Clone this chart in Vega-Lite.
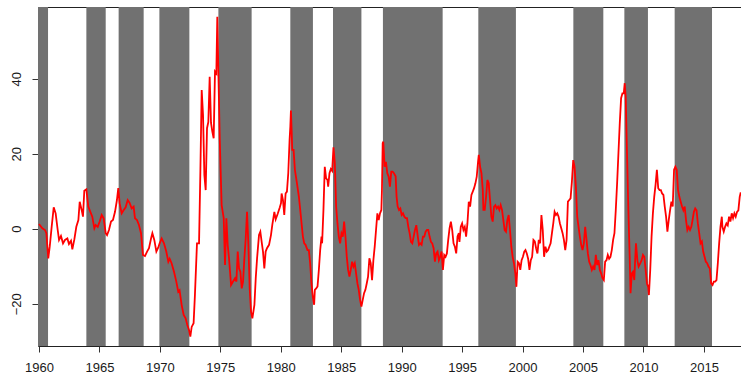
{
  "$schema": "https://vega.github.io/schema/vega-lite/v6.json",
  "width": 704,
  "height": 339,
  "autosize": {"type": "none"},
  "padding": {"left": 38, "top": 7, "right": 0, "bottom": 32},
  "background": "white",
  "config": {
    "view": {"stroke": "#222222", "strokeWidth": 1},
    "axis": {"grid": false, "labelFont": "Liberation Sans", "labelFontSize": 13, "labelColor": "#1a1a1a", "tickColor": "#333333", "tickSize": 6, "domain": false}
  },
  "datasets": {
    "bands": [
      {"start": 1959.9, "end": 1960.75},
      {"start": 1963.92, "end": 1965.52},
      {"start": 1966.59, "end": 1968.66},
      {"start": 1969.96, "end": 1972.44},
      {"start": 1974.84, "end": 1977.59},
      {"start": 1980.79, "end": 1982.66},
      {"start": 1984.32, "end": 1986.67},
      {"start": 1988.45, "end": 1993.39},
      {"start": 1996.34, "end": 1999.45},
      {"start": 2004.2, "end": 2006.68},
      {"start": 2008.42, "end": 2010.37},
      {"start": 2012.58, "end": 2015.67}
    ],
    "series": [
      {"t": 1960.0, "v": 1.25}, {"t": 1960.28, "v": 0.1}, {"t": 1960.5, "v": -0.35}, {"t": 1960.61, "v": -1.2},
      {"t": 1960.77, "v": -7.9}, {"t": 1960.89, "v": -4.8}, {"t": 1961.05, "v": 0.5}, {"t": 1961.22, "v": 5.7},
      {"t": 1961.38, "v": 4.1}, {"t": 1961.55, "v": -0.35}, {"t": 1961.66, "v": -3.0}, {"t": 1961.82, "v": -1.95},
      {"t": 1961.99, "v": -3.9}, {"t": 1962.15, "v": -3.0}, {"t": 1962.35, "v": -2.6}, {"t": 1962.48, "v": -4.1},
      {"t": 1962.65, "v": -3.2}, {"t": 1962.76, "v": -5.5}, {"t": 1962.93, "v": -2.8}, {"t": 1963.09, "v": 0.5},
      {"t": 1963.26, "v": 2.3}, {"t": 1963.37, "v": 7.2}, {"t": 1963.53, "v": 5.0}, {"t": 1963.64, "v": 3.2},
      {"t": 1963.75, "v": 10.1}, {"t": 1963.92, "v": 10.5}, {"t": 1964.08, "v": 5.9}, {"t": 1964.25, "v": 4.5},
      {"t": 1964.41, "v": 3.2}, {"t": 1964.58, "v": 0.1}, {"t": 1964.69, "v": 1.0}, {"t": 1964.86, "v": 0.5},
      {"t": 1965.02, "v": 1.9}, {"t": 1965.19, "v": 3.65}, {"t": 1965.35, "v": 2.8}, {"t": 1965.52, "v": -1.2},
      {"t": 1965.63, "v": -1.7}, {"t": 1965.79, "v": -0.35}, {"t": 1965.96, "v": 1.9}, {"t": 1966.12, "v": 2.3},
      {"t": 1966.29, "v": 4.5}, {"t": 1966.45, "v": 7.65}, {"t": 1966.56, "v": 10.8}, {"t": 1966.67, "v": 6.8},
      {"t": 1966.84, "v": 4.1}, {"t": 1967.01, "v": 5.0}, {"t": 1967.17, "v": 5.7}, {"t": 1967.34, "v": 7.65},
      {"t": 1967.5, "v": 6.9}, {"t": 1967.67, "v": 5.4}, {"t": 1967.83, "v": 5.9}, {"t": 1967.94, "v": 2.8},
      {"t": 1968.11, "v": 2.3}, {"t": 1968.27, "v": 1.0}, {"t": 1968.44, "v": -1.2}, {"t": 1968.6, "v": -7.0},
      {"t": 1968.77, "v": -7.3}, {"t": 1968.94, "v": -6.1}, {"t": 1969.1, "v": -5.2}, {"t": 1969.27, "v": -2.6},
      {"t": 1969.38, "v": -1.2}, {"t": 1969.54, "v": -3.0}, {"t": 1969.71, "v": -6.1}, {"t": 1969.87, "v": -5.0},
      {"t": 1969.98, "v": -3.9}, {"t": 1970.15, "v": -2.6}, {"t": 1970.34, "v": -3.9}, {"t": 1970.53, "v": -6.1},
      {"t": 1970.7, "v": -8.8}, {"t": 1970.81, "v": -8.0}, {"t": 1970.97, "v": -9.2}, {"t": 1971.17, "v": -11.5},
      {"t": 1971.36, "v": -14.1}, {"t": 1971.52, "v": -16.8}, {"t": 1971.63, "v": -16.4}, {"t": 1971.8, "v": -20.3},
      {"t": 1971.97, "v": -23.0}, {"t": 1972.13, "v": -23.9}, {"t": 1972.27, "v": -25.7}, {"t": 1972.41, "v": -27.0},
      {"t": 1972.52, "v": -28.8}, {"t": 1972.63, "v": -26.2}, {"t": 1972.79, "v": -25.2}, {"t": 1972.9, "v": -17.7},
      {"t": 1973.07, "v": -3.9}, {"t": 1973.24, "v": -3.9}, {"t": 1973.35, "v": 15.2}, {"t": 1973.46, "v": 37.0},
      {"t": 1973.57, "v": 30.3}, {"t": 1973.68, "v": 14.3}, {"t": 1973.79, "v": 10.3}, {"t": 1973.9, "v": 26.8},
      {"t": 1974.01, "v": 28.5}, {"t": 1974.12, "v": 40.5}, {"t": 1974.23, "v": 28.2}, {"t": 1974.34, "v": 25.9},
      {"t": 1974.45, "v": 24.1}, {"t": 1974.56, "v": 41.9}, {"t": 1974.67, "v": 41.4}, {"t": 1974.75, "v": 56.5},
      {"t": 1974.84, "v": 41.9}, {"t": 1974.95, "v": 24.1}, {"t": 1975.11, "v": 6.3}, {"t": 1975.28, "v": 2.8},
      {"t": 1975.39, "v": -9.7}, {"t": 1975.5, "v": 2.8}, {"t": 1975.61, "v": -4.3}, {"t": 1975.72, "v": -7.9},
      {"t": 1975.89, "v": -15.0}, {"t": 1976.05, "v": -14.1}, {"t": 1976.22, "v": -13.2}, {"t": 1976.33, "v": -14.1},
      {"t": 1976.44, "v": -6.1}, {"t": 1976.55, "v": -10.6}, {"t": 1976.66, "v": -11.5}, {"t": 1976.77, "v": -15.9},
      {"t": 1976.88, "v": -14.1}, {"t": 1976.99, "v": -7.9}, {"t": 1977.1, "v": -2.6}, {"t": 1977.21, "v": 4.5},
      {"t": 1977.32, "v": -4.3}, {"t": 1977.43, "v": -15.9}, {"t": 1977.54, "v": -22.1}, {"t": 1977.65, "v": -23.9},
      {"t": 1977.82, "v": -20.3}, {"t": 1977.93, "v": -13.2}, {"t": 1978.04, "v": -7.9}, {"t": 1978.2, "v": -1.7},
      {"t": 1978.31, "v": -0.8}, {"t": 1978.42, "v": -3.5}, {"t": 1978.53, "v": -6.1}, {"t": 1978.64, "v": -10.6},
      {"t": 1978.75, "v": -6.1}, {"t": 1978.86, "v": -5.2}, {"t": 1979.03, "v": -4.3}, {"t": 1979.19, "v": -1.7},
      {"t": 1979.3, "v": 1.0}, {"t": 1979.47, "v": 4.5}, {"t": 1979.58, "v": 2.5}, {"t": 1979.74, "v": 3.9},
      {"t": 1979.91, "v": 5.6}, {"t": 1980.02, "v": 6.8}, {"t": 1980.07, "v": 9.4}, {"t": 1980.18, "v": 7.7},
      {"t": 1980.29, "v": 3.65}, {"t": 1980.4, "v": 9.4}, {"t": 1980.51, "v": 9.9}, {"t": 1980.62, "v": 14.8},
      {"t": 1980.73, "v": 23.7}, {"t": 1980.79, "v": 27.2}, {"t": 1980.84, "v": 31.5}, {"t": 1980.9, "v": 26.1},
      {"t": 1980.95, "v": 21.0}, {"t": 1981.06, "v": 21.0}, {"t": 1981.17, "v": 15.7}, {"t": 1981.34, "v": 12.1},
      {"t": 1981.5, "v": 8.5}, {"t": 1981.61, "v": 5.0}, {"t": 1981.72, "v": 1.4}, {"t": 1981.83, "v": -2.1},
      {"t": 1981.94, "v": -3.9}, {"t": 1982.05, "v": -4.3}, {"t": 1982.21, "v": -5.7}, {"t": 1982.32, "v": -5.7},
      {"t": 1982.43, "v": -9.2}, {"t": 1982.54, "v": -14.6}, {"t": 1982.65, "v": -18.1}, {"t": 1982.76, "v": -20.3},
      {"t": 1982.82, "v": -16.3}, {"t": 1982.93, "v": -15.9}, {"t": 1983.04, "v": -15.4}, {"t": 1983.15, "v": -11.0},
      {"t": 1983.26, "v": -5.7}, {"t": 1983.37, "v": -2.1}, {"t": 1983.42, "v": -3.9}, {"t": 1983.53, "v": 5.0},
      {"t": 1983.64, "v": 16.5}, {"t": 1983.75, "v": 13.4}, {"t": 1983.86, "v": 13.0}, {"t": 1983.92, "v": 11.2},
      {"t": 1984.03, "v": 14.8}, {"t": 1984.14, "v": 15.9}, {"t": 1984.25, "v": 15.4}, {"t": 1984.36, "v": 21.7},
      {"t": 1984.47, "v": 17.6}, {"t": 1984.58, "v": 5.9}, {"t": 1984.69, "v": 1.4}, {"t": 1984.8, "v": -2.1},
      {"t": 1984.91, "v": -3.9}, {"t": 1985.02, "v": -1.2}, {"t": 1985.13, "v": -2.1}, {"t": 1985.24, "v": 1.9},
      {"t": 1985.35, "v": -2.1}, {"t": 1985.46, "v": -7.5}, {"t": 1985.57, "v": -11.0}, {"t": 1985.68, "v": -12.8},
      {"t": 1985.79, "v": -11.0}, {"t": 1985.9, "v": -8.8}, {"t": 1986.01, "v": -10.1}, {"t": 1986.12, "v": -9.2},
      {"t": 1986.23, "v": -11.9}, {"t": 1986.34, "v": -14.6}, {"t": 1986.45, "v": -16.3}, {"t": 1986.56, "v": -19.0},
      {"t": 1986.67, "v": -20.8}, {"t": 1986.78, "v": -19.0}, {"t": 1986.89, "v": -17.2}, {"t": 1987.0, "v": -16.3},
      {"t": 1987.11, "v": -14.6}, {"t": 1987.22, "v": -12.8}, {"t": 1987.33, "v": -7.9}, {"t": 1987.44, "v": -9.2},
      {"t": 1987.55, "v": -13.7}, {"t": 1987.66, "v": -8.4}, {"t": 1987.77, "v": -4.8}, {"t": 1987.88, "v": -0.35},
      {"t": 1987.99, "v": 4.1}, {"t": 1988.1, "v": 2.3}, {"t": 1988.21, "v": 4.1}, {"t": 1988.32, "v": 5.0},
      {"t": 1988.37, "v": 10.3}, {"t": 1988.43, "v": 22.8}, {"t": 1988.48, "v": 23.2}, {"t": 1988.59, "v": 16.5},
      {"t": 1988.7, "v": 17.8}, {"t": 1988.81, "v": 14.8}, {"t": 1988.92, "v": 13.9}, {"t": 1989.03, "v": 11.2},
      {"t": 1989.14, "v": 15.2}, {"t": 1989.25, "v": 15.2}, {"t": 1989.36, "v": 14.8}, {"t": 1989.5, "v": 14.0},
      {"t": 1989.58, "v": 8.5}, {"t": 1989.67, "v": 5.9}, {"t": 1989.78, "v": 5.0}, {"t": 1989.89, "v": 5.4},
      {"t": 1990.0, "v": 3.65}, {"t": 1990.11, "v": 4.1}, {"t": 1990.22, "v": 3.2}, {"t": 1990.33, "v": 2.8},
      {"t": 1990.44, "v": 2.8}, {"t": 1990.55, "v": 0.5}, {"t": 1990.66, "v": -1.2}, {"t": 1990.77, "v": -3.5},
      {"t": 1990.88, "v": -3.9}, {"t": 1990.99, "v": -2.1}, {"t": 1991.1, "v": -0.35}, {"t": 1991.21, "v": 0.95},
      {"t": 1991.32, "v": -1.7}, {"t": 1991.43, "v": -4.3}, {"t": 1991.54, "v": -3.9}, {"t": 1991.65, "v": -4.3},
      {"t": 1991.76, "v": -2.1}, {"t": 1991.87, "v": -2.1}, {"t": 1991.98, "v": -0.8}, {"t": 1992.09, "v": -0.35},
      {"t": 1992.2, "v": -0.35}, {"t": 1992.31, "v": -2.1}, {"t": 1992.42, "v": -3.5}, {"t": 1992.53, "v": -3.9},
      {"t": 1992.64, "v": -5.2}, {"t": 1992.75, "v": -8.8}, {"t": 1992.86, "v": -6.6}, {"t": 1992.97, "v": -6.1},
      {"t": 1993.08, "v": -8.4}, {"t": 1993.19, "v": -7.5}, {"t": 1993.3, "v": -6.1}, {"t": 1993.41, "v": -11.0},
      {"t": 1993.52, "v": -7.0}, {"t": 1993.63, "v": -7.5}, {"t": 1993.74, "v": -6.6}, {"t": 1993.85, "v": -3.0},
      {"t": 1993.96, "v": 0.1}, {"t": 1994.07, "v": 1.9}, {"t": 1994.18, "v": -0.35}, {"t": 1994.29, "v": -3.9},
      {"t": 1994.4, "v": -4.8}, {"t": 1994.51, "v": -6.6}, {"t": 1994.62, "v": -2.1}, {"t": 1994.73, "v": -1.2},
      {"t": 1994.78, "v": -3.5}, {"t": 1994.89, "v": 0.5}, {"t": 1995.0, "v": 1.4}, {"t": 1995.11, "v": -0.35},
      {"t": 1995.22, "v": 0.5}, {"t": 1995.33, "v": -2.1}, {"t": 1995.44, "v": 1.4}, {"t": 1995.55, "v": 7.2},
      {"t": 1995.66, "v": 5.9}, {"t": 1995.77, "v": 9.0}, {"t": 1995.88, "v": 9.9}, {"t": 1995.99, "v": 10.8},
      {"t": 1996.1, "v": 12.1}, {"t": 1996.21, "v": 13.9}, {"t": 1996.32, "v": 17.9}, {"t": 1996.38, "v": 19.7},
      {"t": 1996.49, "v": 16.5}, {"t": 1996.6, "v": 14.8}, {"t": 1996.71, "v": 10.3}, {"t": 1996.76, "v": 5.0},
      {"t": 1996.87, "v": 5.0}, {"t": 1996.98, "v": 8.5}, {"t": 1997.09, "v": 13.0}, {"t": 1997.2, "v": 12.1},
      {"t": 1997.31, "v": 7.65}, {"t": 1997.42, "v": 3.2}, {"t": 1997.53, "v": 1.9}, {"t": 1997.64, "v": 5.9},
      {"t": 1997.75, "v": 6.3}, {"t": 1997.86, "v": 5.4}, {"t": 1997.97, "v": 5.9}, {"t": 1998.08, "v": 5.0},
      {"t": 1998.19, "v": 6.3}, {"t": 1998.3, "v": 5.0}, {"t": 1998.41, "v": 2.3}, {"t": 1998.52, "v": -0.35},
      {"t": 1998.63, "v": -0.8}, {"t": 1998.74, "v": 2.3}, {"t": 1998.85, "v": 3.65}, {"t": 1998.96, "v": -0.35},
      {"t": 1999.07, "v": -4.8}, {"t": 1999.18, "v": -7.5}, {"t": 1999.29, "v": -9.2}, {"t": 1999.4, "v": -11.9},
      {"t": 1999.49, "v": -15.5}, {"t": 1999.59, "v": -8.8}, {"t": 1999.7, "v": -9.2}, {"t": 1999.81, "v": -11.0},
      {"t": 1999.92, "v": -8.4}, {"t": 2000.03, "v": -7.5}, {"t": 2000.14, "v": -6.1}, {"t": 2000.24, "v": -5.7},
      {"t": 2000.35, "v": -6.6}, {"t": 2000.46, "v": -8.0}, {"t": 2000.57, "v": -11.0}, {"t": 2000.68, "v": -8.4},
      {"t": 2000.79, "v": -7.5}, {"t": 2000.9, "v": -3.0}, {"t": 2001.01, "v": -3.4}, {"t": 2001.12, "v": -5.2},
      {"t": 2001.23, "v": -6.6}, {"t": 2001.34, "v": -3.0}, {"t": 2001.45, "v": -3.9}, {"t": 2001.56, "v": 3.65},
      {"t": 2001.67, "v": -0.35}, {"t": 2001.78, "v": -7.5}, {"t": 2001.89, "v": -4.8}, {"t": 2002.0, "v": -6.1},
      {"t": 2002.11, "v": -5.7}, {"t": 2002.21, "v": -4.8}, {"t": 2002.32, "v": -3.9}, {"t": 2002.43, "v": -1.2},
      {"t": 2002.54, "v": 1.4}, {"t": 2002.65, "v": 4.5}, {"t": 2002.76, "v": 3.65}, {"t": 2002.87, "v": 4.1},
      {"t": 2002.98, "v": 3.2}, {"t": 2003.09, "v": 1.4}, {"t": 2003.2, "v": 0.1}, {"t": 2003.31, "v": -1.2},
      {"t": 2003.42, "v": -3.0}, {"t": 2003.53, "v": -5.7}, {"t": 2003.64, "v": -3.0}, {"t": 2003.75, "v": 7.2},
      {"t": 2003.86, "v": 7.65}, {"t": 2003.97, "v": 8.1}, {"t": 2004.08, "v": 12.5}, {"t": 2004.19, "v": 18.3},
      {"t": 2004.3, "v": 16.5}, {"t": 2004.41, "v": 11.2}, {"t": 2004.52, "v": 3.2}, {"t": 2004.63, "v": 0.5},
      {"t": 2004.74, "v": -2.1}, {"t": 2004.85, "v": -4.3}, {"t": 2004.96, "v": -5.7}, {"t": 2005.07, "v": -3.9},
      {"t": 2005.18, "v": 0.5}, {"t": 2005.29, "v": -3.0}, {"t": 2005.4, "v": -6.6}, {"t": 2005.51, "v": -8.8},
      {"t": 2005.62, "v": -9.7}, {"t": 2005.73, "v": -11.0}, {"t": 2005.84, "v": -10.1}, {"t": 2005.95, "v": -11.0},
      {"t": 2006.06, "v": -7.0}, {"t": 2006.17, "v": -9.7}, {"t": 2006.28, "v": -8.4}, {"t": 2006.39, "v": -11.0},
      {"t": 2006.5, "v": -11.9}, {"t": 2006.61, "v": -13.2}, {"t": 2006.72, "v": -13.7}, {"t": 2006.83, "v": -8.8},
      {"t": 2006.94, "v": -8.4}, {"t": 2007.05, "v": -7.0}, {"t": 2007.16, "v": -8.0}, {"t": 2007.27, "v": -7.5},
      {"t": 2007.38, "v": -5.7}, {"t": 2007.49, "v": -3.0}, {"t": 2007.6, "v": -1.2}, {"t": 2007.71, "v": 5.0},
      {"t": 2007.82, "v": 12.1}, {"t": 2007.93, "v": 20.1}, {"t": 2008.04, "v": 28.1}, {"t": 2008.15, "v": 34.8},
      {"t": 2008.26, "v": 36.1}, {"t": 2008.37, "v": 36.1}, {"t": 2008.45, "v": 38.8}, {"t": 2008.53, "v": 35.2},
      {"t": 2008.64, "v": 20.1}, {"t": 2008.75, "v": 5.0}, {"t": 2008.86, "v": -7.5}, {"t": 2008.93, "v": -17.2},
      {"t": 2009.04, "v": -11.9}, {"t": 2009.13, "v": -11.5}, {"t": 2009.24, "v": -13.7}, {"t": 2009.3, "v": -9.2},
      {"t": 2009.38, "v": -3.9}, {"t": 2009.5, "v": -8.5}, {"t": 2009.6, "v": -10.1}, {"t": 2009.74, "v": -9.2},
      {"t": 2009.85, "v": -8.4}, {"t": 2009.96, "v": -7.0}, {"t": 2010.07, "v": -7.5}, {"t": 2010.18, "v": -11.0},
      {"t": 2010.29, "v": -14.6}, {"t": 2010.39, "v": -15.5}, {"t": 2010.45, "v": -17.7}, {"t": 2010.56, "v": -11.0},
      {"t": 2010.67, "v": -2.1}, {"t": 2010.78, "v": 4.1}, {"t": 2010.89, "v": 8.5}, {"t": 2011.0, "v": 11.7},
      {"t": 2011.11, "v": 15.7}, {"t": 2011.22, "v": 10.8}, {"t": 2011.33, "v": 10.3}, {"t": 2011.44, "v": 10.3},
      {"t": 2011.54, "v": 9.4}, {"t": 2011.65, "v": 9.0}, {"t": 2011.76, "v": 5.9}, {"t": 2011.87, "v": 3.2},
      {"t": 2011.98, "v": -0.8}, {"t": 2012.09, "v": 2.3}, {"t": 2012.2, "v": 4.9}, {"t": 2012.31, "v": 7.2},
      {"t": 2012.42, "v": 5.9}, {"t": 2012.53, "v": 15.7}, {"t": 2012.64, "v": 16.5}, {"t": 2012.75, "v": 15.7},
      {"t": 2012.86, "v": 10.3}, {"t": 2012.97, "v": 8.5}, {"t": 2013.08, "v": 7.2}, {"t": 2013.19, "v": 5.9},
      {"t": 2013.3, "v": 4.9}, {"t": 2013.41, "v": 5.9}, {"t": 2013.52, "v": 2.3}, {"t": 2013.63, "v": -0.35},
      {"t": 2013.74, "v": 0.5}, {"t": 2013.85, "v": -0.35}, {"t": 2013.96, "v": 0.5}, {"t": 2014.06, "v": 2.3},
      {"t": 2014.17, "v": 4.5}, {"t": 2014.28, "v": 5.4}, {"t": 2014.39, "v": 4.9}, {"t": 2014.5, "v": 1.4},
      {"t": 2014.61, "v": -1.2}, {"t": 2014.72, "v": -3.9}, {"t": 2014.83, "v": -3.4}, {"t": 2014.94, "v": -6.1},
      {"t": 2015.05, "v": -7.5}, {"t": 2015.16, "v": -8.8}, {"t": 2015.27, "v": -9.2}, {"t": 2015.38, "v": -10.1},
      {"t": 2015.49, "v": -10.6}, {"t": 2015.6, "v": -14.6}, {"t": 2015.71, "v": -15.0}, {"t": 2015.82, "v": -14.1},
      {"t": 2015.93, "v": -14.1}, {"t": 2016.04, "v": -13.7}, {"t": 2016.15, "v": -9.2}, {"t": 2016.26, "v": -3.9},
      {"t": 2016.37, "v": 0.5}, {"t": 2016.48, "v": 3.2}, {"t": 2016.53, "v": 0.5}, {"t": 2016.64, "v": -0.8},
      {"t": 2016.75, "v": 0.5}, {"t": 2016.86, "v": 1.4}, {"t": 2016.97, "v": 0.9}, {"t": 2017.08, "v": 3.2},
      {"t": 2017.19, "v": 1.9}, {"t": 2017.3, "v": 4.1}, {"t": 2017.41, "v": 2.8}, {"t": 2017.52, "v": 4.1},
      {"t": 2017.63, "v": 3.2}, {"t": 2017.74, "v": 4.5}, {"t": 2017.85, "v": 4.9}, {"t": 2017.96, "v": 8.5},
      {"t": 2018.05, "v": 9.7}
    ]
  },
  "layer": [
    {
      "data": {"name": "bands"},
      "mark": {"type": "rect", "color": "#717171", "clip": true},
      "encoding": {
        "x": {"field": "start", "type": "quantitative", "scale": {"domain": [1959.92, 2018.15], "nice": false, "zero": false},
          "axis": {"values": [1960, 1965, 1970, 1975, 1980, 1985, 1990, 1995, 2000, 2005, 2010, 2015], "format": "d", "title": null, "labelPadding": 9, "labelFlush": false, "labelOverlap": false}},
        "x2": {"field": "end"}
      }
    },
    {
      "data": {"name": "series"},
      "mark": {"type": "line", "color": "#ff0000", "strokeWidth": 1.8, "clip": true},
      "encoding": {
        "x": {"field": "t", "type": "quantitative"},
        "y": {"field": "v", "type": "quantitative", "scale": {"domain": [-31.28, 59.12], "nice": false, "zero": false},
          "axis": {"values": [-20, 0, 20, 40], "title": null, "labelAngle": -90, "labelAlign": "center", "labelBaseline": "bottom", "labelPadding": 9}}
      }
    }
  ]
}
